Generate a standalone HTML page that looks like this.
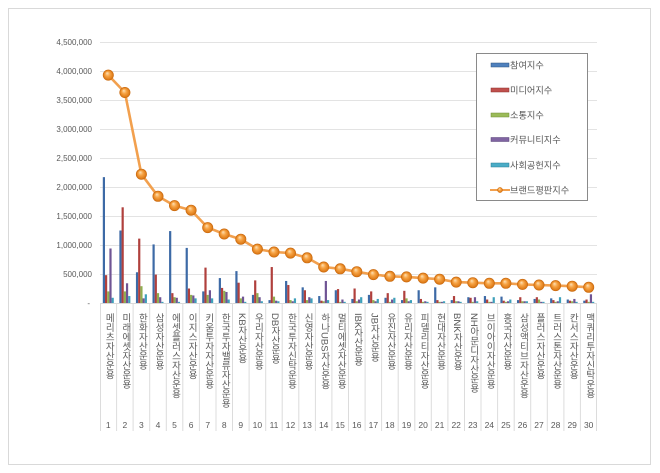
<!DOCTYPE html>
<html><head><meta charset="utf-8">
<style>
html,body{margin:0;padding:0;background:#fff;}
#wrap{position:relative;width:660px;height:473px;overflow:hidden;background:#fff;}
svg{position:absolute;left:0;top:0;}
.lbl{position:absolute;top:313px;width:12px;margin-left:-6px;writing-mode:vertical-rl;font-size:9.5px;line-height:12px;color:#595959;font-family:"Liberation Sans","Noto Sans CJK KR",sans-serif;white-space:nowrap;}
</style></head><body>
<div id="wrap">
<svg width="660" height="473" viewBox="0 0 660 473" xmlns="http://www.w3.org/2000/svg" font-family="Liberation Sans, Noto Sans CJK KR, sans-serif">
<defs>
<radialGradient id="mk" cx="0.5" cy="0.5" r="0.5" fx="0.38" fy="0.3">
<stop offset="0" stop-color="#fde2b8"/>
<stop offset="0.45" stop-color="#f7a445"/>
<stop offset="1" stop-color="#d9730f"/>
</radialGradient>
</defs>
<rect x="8.5" y="8.5" width="642" height="456" fill="#fff" stroke="#d9d9d9" stroke-width="1"/>
<!-- gridlines -->
<g stroke="#e3e3e3" stroke-width="1">
<line x1="100" y1="42.5" x2="597" y2="42.5"/>
<line x1="100" y1="71.5" x2="597" y2="71.5"/>
<line x1="100" y1="100.5" x2="597" y2="100.5"/>
<line x1="100" y1="129.5" x2="597" y2="129.5"/>
<line x1="100" y1="158.5" x2="597" y2="158.5"/>
<line x1="100" y1="187.5" x2="597" y2="187.5"/>
<line x1="100" y1="216.5" x2="597" y2="216.5"/>
<line x1="100" y1="245.5" x2="597" y2="245.5"/>
<line x1="100" y1="274.5" x2="597" y2="274.5"/>
</g>
<line x1="100" y1="303.5" x2="597" y2="303.5" stroke="#d9d9d9" stroke-width="1"/>
<!-- y labels -->
<g font-size="8" fill="#595959" text-anchor="end">
<text x="92" y="45">4,500,000</text>
<text x="92" y="74">4,000,000</text>
<text x="92" y="103">3,500,000</text>
<text x="92" y="132">3,000,000</text>
<text x="92" y="161">2,500,000</text>
<text x="92" y="190">2,000,000</text>
<text x="92" y="219">1,500,000</text>
<text x="92" y="248">1,000,000</text>
<text x="92" y="277">500,000</text>
<text x="90" y="306">-</text>
</g>
<!-- category separators -->
<g stroke="#dcdcdc" stroke-width="1">
<line x1="100.5" y1="303" x2="100.5" y2="431"/>
<line x1="116.6" y1="303" x2="116.6" y2="431"/>
<line x1="133.1" y1="303" x2="133.1" y2="431"/>
<line x1="149.7" y1="303" x2="149.7" y2="431"/>
<line x1="166.3" y1="303" x2="166.3" y2="431"/>
<line x1="182.8" y1="303" x2="182.8" y2="431"/>
<line x1="199.4" y1="303" x2="199.4" y2="431"/>
<line x1="216.0" y1="303" x2="216.0" y2="431"/>
<line x1="232.5" y1="303" x2="232.5" y2="431"/>
<line x1="249.1" y1="303" x2="249.1" y2="431"/>
<line x1="265.7" y1="303" x2="265.7" y2="431"/>
<line x1="282.2" y1="303" x2="282.2" y2="431"/>
<line x1="298.8" y1="303" x2="298.8" y2="431"/>
<line x1="315.4" y1="303" x2="315.4" y2="431"/>
<line x1="331.9" y1="303" x2="331.9" y2="431"/>
<line x1="348.5" y1="303" x2="348.5" y2="431"/>
<line x1="365.1" y1="303" x2="365.1" y2="431"/>
<line x1="381.6" y1="303" x2="381.6" y2="431"/>
<line x1="398.2" y1="303" x2="398.2" y2="431"/>
<line x1="414.8" y1="303" x2="414.8" y2="431"/>
<line x1="431.3" y1="303" x2="431.3" y2="431"/>
<line x1="447.9" y1="303" x2="447.9" y2="431"/>
<line x1="464.5" y1="303" x2="464.5" y2="431"/>
<line x1="481.0" y1="303" x2="481.0" y2="431"/>
<line x1="497.6" y1="303" x2="497.6" y2="431"/>
<line x1="514.2" y1="303" x2="514.2" y2="431"/>
<line x1="530.7" y1="303" x2="530.7" y2="431"/>
<line x1="547.3" y1="303" x2="547.3" y2="431"/>
<line x1="563.9" y1="303" x2="563.9" y2="431"/>
<line x1="580.4" y1="303" x2="580.4" y2="431"/>
<line x1="596.5" y1="303" x2="596.5" y2="431"/>
</g>
<!-- bars: units = categories (x) and millions (y) -->
<g transform="translate(100,303) scale(16.567,-58)">
<defs>
<g id="b"/>
</defs>
<g transform="translate(0,0)"><rect x="0.169" width="0.1328" height="2.17" fill="#3d6aa6"/><rect x="0.302" width="0.1328" height="0.48" fill="#b0403d"/><rect x="0.435" width="0.1328" height="0.20" fill="#8fae50"/><rect x="0.567" width="0.1328" height="0.94" fill="#6f5494"/><rect x="0.700" width="0.1328" height="0.09" fill="#3ea0ba"/></g>
<g transform="translate(1,0)"><rect x="0.169" width="0.1328" height="1.25" fill="#3d6aa6"/><rect x="0.302" width="0.1328" height="1.65" fill="#b0403d"/><rect x="0.435" width="0.1328" height="0.20" fill="#8fae50"/><rect x="0.567" width="0.1328" height="0.34" fill="#6f5494"/><rect x="0.700" width="0.1328" height="0.12" fill="#3ea0ba"/></g>
<g transform="translate(2,0)"><rect x="0.169" width="0.1328" height="0.53" fill="#3d6aa6"/><rect x="0.302" width="0.1328" height="1.11" fill="#b0403d"/><rect x="0.435" width="0.1328" height="0.29" fill="#8fae50"/><rect x="0.567" width="0.1328" height="0.08" fill="#6f5494"/><rect x="0.700" width="0.1328" height="0.15" fill="#3ea0ba"/></g>
<g transform="translate(3,0)"><rect x="0.169" width="0.1328" height="1.01" fill="#3d6aa6"/><rect x="0.302" width="0.1328" height="0.49" fill="#b0403d"/><rect x="0.435" width="0.1328" height="0.17" fill="#8fae50"/><rect x="0.567" width="0.1328" height="0.10" fill="#6f5494"/><rect x="0.700" width="0.1328" height="0.02" fill="#3ea0ba"/></g>
<g transform="translate(4,0)"><rect x="0.169" width="0.1328" height="1.24" fill="#3d6aa6"/><rect x="0.302" width="0.1328" height="0.17" fill="#b0403d"/><rect x="0.435" width="0.1328" height="0.10" fill="#8fae50"/><rect x="0.567" width="0.1328" height="0.09" fill="#6f5494"/><rect x="0.700" width="0.1328" height="0.02" fill="#3ea0ba"/></g>
<g transform="translate(5,0)"><rect x="0.169" width="0.1328" height="0.95" fill="#3d6aa6"/><rect x="0.302" width="0.1328" height="0.25" fill="#b0403d"/><rect x="0.435" width="0.1328" height="0.14" fill="#8fae50"/><rect x="0.567" width="0.1328" height="0.13" fill="#6f5494"/><rect x="0.700" width="0.1328" height="0.08" fill="#3ea0ba"/></g>
<g transform="translate(6,0)"><rect x="0.169" width="0.1328" height="0.20" fill="#3d6aa6"/><rect x="0.302" width="0.1328" height="0.61" fill="#b0403d"/><rect x="0.435" width="0.1328" height="0.14" fill="#8fae50"/><rect x="0.567" width="0.1328" height="0.22" fill="#6f5494"/><rect x="0.700" width="0.1328" height="0.08" fill="#3ea0ba"/></g>
<g transform="translate(7,0)"><rect x="0.169" width="0.1328" height="0.43" fill="#3d6aa6"/><rect x="0.302" width="0.1328" height="0.26" fill="#b0403d"/><rect x="0.435" width="0.1328" height="0.21" fill="#8fae50"/><rect x="0.567" width="0.1328" height="0.19" fill="#6f5494"/><rect x="0.700" width="0.1328" height="0.06" fill="#3ea0ba"/></g>
<g transform="translate(8,0)"><rect x="0.169" width="0.1328" height="0.55" fill="#3d6aa6"/><rect x="0.302" width="0.1328" height="0.35" fill="#b0403d"/><rect x="0.435" width="0.1328" height="0.08" fill="#8fae50"/><rect x="0.567" width="0.1328" height="0.11" fill="#6f5494"/><rect x="0.700" width="0.1328" height="0.02" fill="#3ea0ba"/></g>
<g transform="translate(9,0)"><rect x="0.169" width="0.1328" height="0.14" fill="#3d6aa6"/><rect x="0.302" width="0.1328" height="0.39" fill="#b0403d"/><rect x="0.435" width="0.1328" height="0.17" fill="#8fae50"/><rect x="0.567" width="0.1328" height="0.10" fill="#6f5494"/><rect x="0.700" width="0.1328" height="0.03" fill="#3ea0ba"/></g>
<g transform="translate(10,0)"><rect x="0.169" width="0.1328" height="0.05" fill="#3d6aa6"/><rect x="0.302" width="0.1328" height="0.62" fill="#b0403d"/><rect x="0.435" width="0.1328" height="0.11" fill="#8fae50"/><rect x="0.567" width="0.1328" height="0.04" fill="#6f5494"/><rect x="0.700" width="0.1328" height="0.03" fill="#3ea0ba"/></g>
<g transform="translate(11,0)"><rect x="0.169" width="0.1328" height="0.38" fill="#3d6aa6"/><rect x="0.302" width="0.1328" height="0.31" fill="#b0403d"/><rect x="0.435" width="0.1328" height="0.05" fill="#8fae50"/><rect x="0.567" width="0.1328" height="0.03" fill="#6f5494"/><rect x="0.700" width="0.1328" height="0.08" fill="#3ea0ba"/></g>
<g transform="translate(12,0)"><rect x="0.169" width="0.1328" height="0.27" fill="#3d6aa6"/><rect x="0.302" width="0.1328" height="0.22" fill="#b0403d"/><rect x="0.435" width="0.1328" height="0.05" fill="#8fae50"/><rect x="0.567" width="0.1328" height="0.10" fill="#6f5494"/><rect x="0.700" width="0.1328" height="0.08" fill="#3ea0ba"/></g>
<g transform="translate(13,0)"><rect x="0.169" width="0.1328" height="0.12" fill="#3d6aa6"/><rect x="0.302" width="0.1328" height="0.04" fill="#b0403d"/><rect x="0.435" width="0.1328" height="0.03" fill="#8fae50"/><rect x="0.567" width="0.1328" height="0.38" fill="#6f5494"/><rect x="0.700" width="0.1328" height="0.05" fill="#3ea0ba"/></g>
<g transform="translate(14,0)"><rect x="0.169" width="0.1328" height="0.22" fill="#3d6aa6"/><rect x="0.302" width="0.1328" height="0.24" fill="#b0403d"/><rect x="0.435" width="0.1328" height="0.02" fill="#8fae50"/><rect x="0.567" width="0.1328" height="0.06" fill="#6f5494"/><rect x="0.700" width="0.1328" height="0.02" fill="#3ea0ba"/></g>
<g transform="translate(15,0)"><rect x="0.169" width="0.1328" height="0.07" fill="#3d6aa6"/><rect x="0.302" width="0.1328" height="0.25" fill="#b0403d"/><rect x="0.435" width="0.1328" height="0.03" fill="#8fae50"/><rect x="0.567" width="0.1328" height="0.06" fill="#6f5494"/><rect x="0.700" width="0.1328" height="0.10" fill="#3ea0ba"/></g>
<g transform="translate(16,0)"><rect x="0.169" width="0.1328" height="0.14" fill="#3d6aa6"/><rect x="0.302" width="0.1328" height="0.20" fill="#b0403d"/><rect x="0.435" width="0.1328" height="0.05" fill="#8fae50"/><rect x="0.567" width="0.1328" height="0.03" fill="#6f5494"/><rect x="0.700" width="0.1328" height="0.07" fill="#3ea0ba"/></g>
<g transform="translate(17,0)"><rect x="0.169" width="0.1328" height="0.09" fill="#3d6aa6"/><rect x="0.302" width="0.1328" height="0.17" fill="#b0403d"/><rect x="0.435" width="0.1328" height="0.02" fill="#8fae50"/><rect x="0.567" width="0.1328" height="0.06" fill="#6f5494"/><rect x="0.700" width="0.1328" height="0.09" fill="#3ea0ba"/></g>
<g transform="translate(18,0)"><rect x="0.169" width="0.1328" height="0.05" fill="#3d6aa6"/><rect x="0.302" width="0.1328" height="0.21" fill="#b0403d"/><rect x="0.435" width="0.1328" height="0.08" fill="#8fae50"/><rect x="0.567" width="0.1328" height="0.03" fill="#6f5494"/><rect x="0.700" width="0.1328" height="0.05" fill="#3ea0ba"/></g>
<g transform="translate(19,0)"><rect x="0.169" width="0.1328" height="0.22" fill="#3d6aa6"/><rect x="0.302" width="0.1328" height="0.07" fill="#b0403d"/><rect x="0.435" width="0.1328" height="0.02" fill="#8fae50"/><rect x="0.567" width="0.1328" height="0.03" fill="#6f5494"/><rect x="0.700" width="0.1328" height="0.02" fill="#3ea0ba"/></g>
<g transform="translate(20,0)"><rect x="0.169" width="0.1328" height="0.27" fill="#3d6aa6"/><rect x="0.302" width="0.1328" height="0.05" fill="#b0403d"/><rect x="0.435" width="0.1328" height="0.02" fill="#8fae50"/><rect x="0.567" width="0.1328" height="0.02" fill="#6f5494"/><rect x="0.700" width="0.1328" height="0.03" fill="#3ea0ba"/></g>
<g transform="translate(21,0)"><rect x="0.169" width="0.1328" height="0.05" fill="#3d6aa6"/><rect x="0.302" width="0.1328" height="0.12" fill="#b0403d"/><rect x="0.435" width="0.1328" height="0.03" fill="#8fae50"/><rect x="0.567" width="0.1328" height="0.03" fill="#6f5494"/><rect x="0.700" width="0.1328" height="0.02" fill="#3ea0ba"/></g>
<g transform="translate(22,0)"><rect x="0.169" width="0.1328" height="0.10" fill="#3d6aa6"/><rect x="0.302" width="0.1328" height="0.09" fill="#b0403d"/><rect x="0.435" width="0.1328" height="0.02" fill="#8fae50"/><rect x="0.567" width="0.1328" height="0.10" fill="#6f5494"/><rect x="0.700" width="0.1328" height="0.03" fill="#3ea0ba"/></g>
<g transform="translate(23,0)"><rect x="0.169" width="0.1328" height="0.12" fill="#3d6aa6"/><rect x="0.302" width="0.1328" height="0.06" fill="#b0403d"/><rect x="0.435" width="0.1328" height="0.02" fill="#8fae50"/><rect x="0.567" width="0.1328" height="0.02" fill="#6f5494"/><rect x="0.700" width="0.1328" height="0.10" fill="#3ea0ba"/></g>
<g transform="translate(24,0)"><rect x="0.169" width="0.1328" height="0.11" fill="#3d6aa6"/><rect x="0.302" width="0.1328" height="0.04" fill="#b0403d"/><rect x="0.435" width="0.1328" height="0.02" fill="#8fae50"/><rect x="0.567" width="0.1328" height="0.03" fill="#6f5494"/><rect x="0.700" width="0.1328" height="0.06" fill="#3ea0ba"/></g>
<g transform="translate(25,0)"><rect x="0.169" width="0.1328" height="0.05" fill="#3d6aa6"/><rect x="0.302" width="0.1328" height="0.10" fill="#b0403d"/><rect x="0.435" width="0.1328" height="0.03" fill="#8fae50"/><rect x="0.567" width="0.1328" height="0.03" fill="#6f5494"/><rect x="0.700" width="0.1328" height="0.03" fill="#3ea0ba"/></g>
<g transform="translate(26,0)"><rect x="0.169" width="0.1328" height="0.07" fill="#3d6aa6"/><rect x="0.302" width="0.1328" height="0.10" fill="#b0403d"/><rect x="0.435" width="0.1328" height="0.06" fill="#8fae50"/><rect x="0.567" width="0.1328" height="0.02" fill="#6f5494"/><rect x="0.700" width="0.1328" height="0.02" fill="#3ea0ba"/></g>
<g transform="translate(27,0)"><rect x="0.169" width="0.1328" height="0.08" fill="#3d6aa6"/><rect x="0.302" width="0.1328" height="0.05" fill="#b0403d"/><rect x="0.435" width="0.1328" height="0.02" fill="#8fae50"/><rect x="0.567" width="0.1328" height="0.03" fill="#6f5494"/><rect x="0.700" width="0.1328" height="0.10" fill="#3ea0ba"/></g>
<g transform="translate(28,0)"><rect x="0.169" width="0.1328" height="0.06" fill="#3d6aa6"/><rect x="0.302" width="0.1328" height="0.04" fill="#b0403d"/><rect x="0.435" width="0.1328" height="0.03" fill="#8fae50"/><rect x="0.567" width="0.1328" height="0.07" fill="#6f5494"/><rect x="0.700" width="0.1328" height="0.02" fill="#3ea0ba"/></g>
<g transform="translate(29,0)"><rect x="0.169" width="0.1328" height="0.04" fill="#3d6aa6"/><rect x="0.302" width="0.1328" height="0.06" fill="#b0403d"/><rect x="0.435" width="0.1328" height="0.02" fill="#8fae50"/><rect x="0.567" width="0.1328" height="0.15" fill="#6f5494"/><rect x="0.700" width="0.1328" height="0.02" fill="#3ea0ba"/></g>
</g>
<!-- brand line -->
<polyline fill="none" stroke="#f2a04e" stroke-width="2.6" stroke-linejoin="round" points="108.3,75.1 124.9,92.5 141.4,174.2 158.0,196.3 174.5,205.6 191.1,210.2 207.7,227.6 224.2,234.0 240.8,239.2 257.4,249.1 274.0,252.0 290.5,253.1 307.1,257.8 323.7,267.0 340.2,268.8 356.8,271.7 373.4,274.6 389.9,276.3 406.5,276.9 423.1,278.1 439.6,279.2 456.2,282.1 472.8,282.7 489.3,283.3 505.9,283.3 522.5,284.4 539.0,285.0 555.6,285.6 572.2,286.2 588.7,287.3"/>
<g fill="url(#mk)" stroke="#c96a10" stroke-width="0.6">
<circle cx="108.3" cy="75.1" r="5.2"/><circle cx="124.9" cy="92.5" r="5.2"/><circle cx="141.4" cy="174.2" r="5.2"/><circle cx="158.0" cy="196.3" r="5.2"/><circle cx="174.5" cy="205.6" r="5.2"/><circle cx="191.1" cy="210.2" r="5.2"/><circle cx="207.7" cy="227.6" r="5.2"/><circle cx="224.2" cy="234.0" r="5.2"/><circle cx="240.8" cy="239.2" r="5.2"/><circle cx="257.4" cy="249.1" r="5.2"/><circle cx="274.0" cy="252.0" r="5.2"/><circle cx="290.5" cy="253.1" r="5.2"/><circle cx="307.1" cy="257.8" r="5.2"/><circle cx="323.7" cy="267.0" r="5.2"/><circle cx="340.2" cy="268.8" r="5.2"/><circle cx="356.8" cy="271.7" r="5.2"/><circle cx="373.4" cy="274.6" r="5.2"/><circle cx="389.9" cy="276.3" r="5.2"/><circle cx="406.5" cy="276.9" r="5.2"/><circle cx="423.1" cy="278.1" r="5.2"/><circle cx="439.6" cy="279.2" r="5.2"/><circle cx="456.2" cy="282.1" r="5.2"/><circle cx="472.8" cy="282.7" r="5.2"/><circle cx="489.3" cy="283.3" r="5.2"/><circle cx="505.9" cy="283.3" r="5.2"/><circle cx="522.5" cy="284.4" r="5.2"/><circle cx="539.0" cy="285.0" r="5.2"/><circle cx="555.6" cy="285.6" r="5.2"/><circle cx="572.2" cy="286.2" r="5.2"/><circle cx="588.7" cy="287.3" r="5.2"/>
</g>
<!-- category numbers -->
<g font-size="8.5" fill="#595959" text-anchor="middle">
<text x="108.3" y="428">1</text><text x="124.9" y="428">2</text><text x="141.4" y="428">3</text><text x="158.0" y="428">4</text><text x="174.5" y="428">5</text><text x="191.1" y="428">6</text><text x="207.7" y="428">7</text><text x="224.2" y="428">8</text><text x="240.8" y="428">9</text><text x="257.4" y="428">10</text><text x="274.0" y="428">11</text><text x="290.5" y="428">12</text><text x="307.1" y="428">13</text><text x="323.7" y="428">14</text><text x="340.2" y="428">15</text><text x="356.8" y="428">16</text><text x="373.4" y="428">17</text><text x="389.9" y="428">18</text><text x="406.5" y="428">19</text><text x="423.1" y="428">20</text><text x="439.6" y="428">21</text><text x="456.2" y="428">22</text><text x="472.8" y="428">23</text><text x="489.3" y="428">24</text><text x="505.9" y="428">25</text><text x="522.5" y="428">26</text><text x="539.0" y="428">27</text><text x="555.6" y="428">28</text><text x="572.2" y="428">29</text><text x="588.7" y="428">30</text>
</g>
<!-- legend -->
<rect x="476.5" y="53.5" width="111" height="147" fill="#fff" stroke="#8a8a8a" stroke-width="1"/>
<rect x="491" y="63" width="18" height="4" fill="#4f81bd" stroke="#2f527f" stroke-width="0.5"/>
<rect x="491" y="88" width="18" height="4" fill="#c0504d" stroke="#8c2f2d" stroke-width="0.5"/>
<rect x="491" y="113" width="18" height="4" fill="#9bbb59" stroke="#6e8a35" stroke-width="0.5"/>
<rect x="491" y="137.5" width="18" height="4" fill="#8064a2" stroke="#574176" stroke-width="0.5"/>
<rect x="491" y="163" width="18" height="4" fill="#4bacc6" stroke="#2a7c93" stroke-width="0.5"/>
<line x1="490" y1="190" x2="510" y2="190" stroke="#f2a04e" stroke-width="2"/>
<circle cx="500" cy="190" r="2.6" fill="url(#mk)" stroke="#c96a10" stroke-width="0.4"/>
<g font-size="9.2" fill="#595959">
<text x="510" y="68.3">참여지수</text>
<text x="510" y="93.3">미디어지수</text>
<text x="510" y="118.3">소통지수</text>
<text x="510" y="142.8">커뮤니티지수</text>
<text x="510" y="168.3">사회공헌지수</text>
<text x="510" y="193.3">브랜드평판지수</text>
</g>
</svg>
<div class="lbl" style="left:108.3px">메리츠자산운용</div>
<div class="lbl" style="left:124.9px">미래에셋자산운용</div>
<div class="lbl" style="left:141.4px">한화자산운용</div>
<div class="lbl" style="left:158.0px">삼성자산운용</div>
<div class="lbl" style="left:174.5px">에셋플러스자산운용</div>
<div class="lbl" style="left:191.1px">이지스자산운용</div>
<div class="lbl" style="left:207.7px">키움투자자산운용</div>
<div class="lbl" style="left:224.2px">한국투자밸류자산운용</div>
<div class="lbl" style="left:240.8px">KB자산운용</div>
<div class="lbl" style="left:257.4px">우리자산운용</div>
<div class="lbl" style="left:274.0px">DB자산운용</div>
<div class="lbl" style="left:290.5px">한국투자신탁운용</div>
<div class="lbl" style="left:307.1px">신영자산운용</div>
<div class="lbl" style="left:323.7px">하나UBS자산운용</div>
<div class="lbl" style="left:340.2px">멀티에셋자산운용</div>
<div class="lbl" style="left:356.8px">IBK자산운용</div>
<div class="lbl" style="left:373.4px">JB자산운용</div>
<div class="lbl" style="left:389.9px">유진자산운용</div>
<div class="lbl" style="left:406.5px">유리자산운용</div>
<div class="lbl" style="left:423.1px">피델리티자산운용</div>
<div class="lbl" style="left:439.6px">현대자산운용</div>
<div class="lbl" style="left:456.2px">BNK자산운용</div>
<div class="lbl" style="left:472.8px">NH아문디자산운용</div>
<div class="lbl" style="left:489.3px">브이아이자산운용</div>
<div class="lbl" style="left:505.9px">흥국자산운용</div>
<div class="lbl" style="left:522.5px">삼성액티브자산운용</div>
<div class="lbl" style="left:539.0px">플러스자산운용</div>
<div class="lbl" style="left:555.6px">트러스톤자산운용</div>
<div class="lbl" style="left:572.2px">칸서스자산운용</div>
<div class="lbl" style="left:588.7px">맥쿼리투자신탁운용</div>
</div>
</body></html>
